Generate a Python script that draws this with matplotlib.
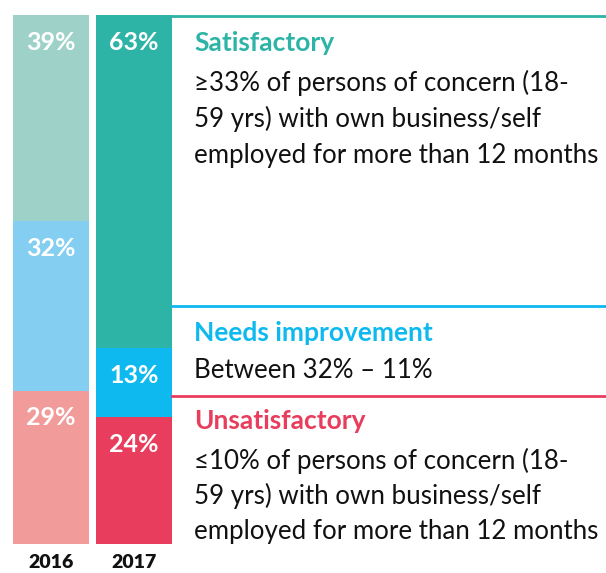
import matplotlib
matplotlib.use("Agg")
import matplotlib.pyplot as plt
from matplotlib.lines import Line2D

years = ["2016", "2017"]
categories = ["Unsatisfactory", "Needs improvement", "Satisfactory"]
values_2016 = [29, 32, 39]
values_2017 = [24, 13, 63]
colors_2016 = ["#F29B9B", "#84CEF2", "#9ED2C9"]
colors_2017 = ["#E83D5C", "#0DB9EF", "#2DB4A7"]

sat_title = "Satisfactory"
sat_body = ["\u226533% of persons of concern (18-", "59 yrs) with own business/self",
            "employed for more than 12 months"]
ni_title = "Needs improvement"
ni_body = ["Between 32% \u2013 11%"]
un_title = "Unsatisfactory"
un_body = ["\u226410% of persons of concern (18-", "59 yrs) with own business/self",
           "employed for more than 12 months"]

W, H = 606, 573
DPI = 100
fig = plt.figure(figsize=(W / DPI, H / DPI), dpi=DPI)
plt.rcParams['font.family'] = ['Lato', 'DejaVu Sans']

def fx(x):
    return x / W

def fy(y):
    return 1 - y / H

ax = fig.add_axes([fx(13), fy(544), fx(172) - fx(13), fy(15) - fy(544)])
ax.set_xlim(-0.458, 1.458)
ax.set_ylim(0, 100)
ax.axis("off")

bw = 0.916
for i, (vals, cols) in enumerate([(values_2016, colors_2016), (values_2017, colors_2017)]):
    bottom = 0
    for v, c in zip(vals, cols):
        ax.bar(i, v, bottom=bottom, width=bw, color=c, linewidth=0)
        top = bottom + v
        ax.annotate(f"{v}%", xy=(i, top), xytext=(0, -19.5), textcoords="offset points",
                    ha="center", va="center", color="white", fontsize=18,
                    fontweight="bold")
        bottom = top

for i, yr in enumerate(years):
    fig.text(fx(51 + 83 * i), fy(563), yr, ha="center", va="center",
             fontsize=14, fontweight="heavy", color="#111111")

# separator lines
for y, c in [(16, "#2DB4A7"), (306, "#0DB9EF"), (396, "#E83D5C")]:
    fig.add_artist(Line2D([fx(172), fx(606)], [fy(y), fy(y)], transform=fig.transFigure,
                          color=c, linewidth=2))

def block(title, color, ty, body, by):
    fig.text(fx(194), fy(ty), title, ha="left", va="center", color=color,
             fontsize=19, fontweight="bold")
    for line, y in zip(body, by):
        fig.text(fx(194), fy(y), line, ha="left", va="center", color="#111111",
                 fontsize=18.6)

block(sat_title, "#2DB4A7", 43, sat_body, [83, 119, 155])
block(ni_title, "#0DB9EF", 333, ni_body, [371])
block(un_title, "#E83D5C", 421, un_body, [461, 496, 532])

fig.savefig("out.png", dpi=DPI)
